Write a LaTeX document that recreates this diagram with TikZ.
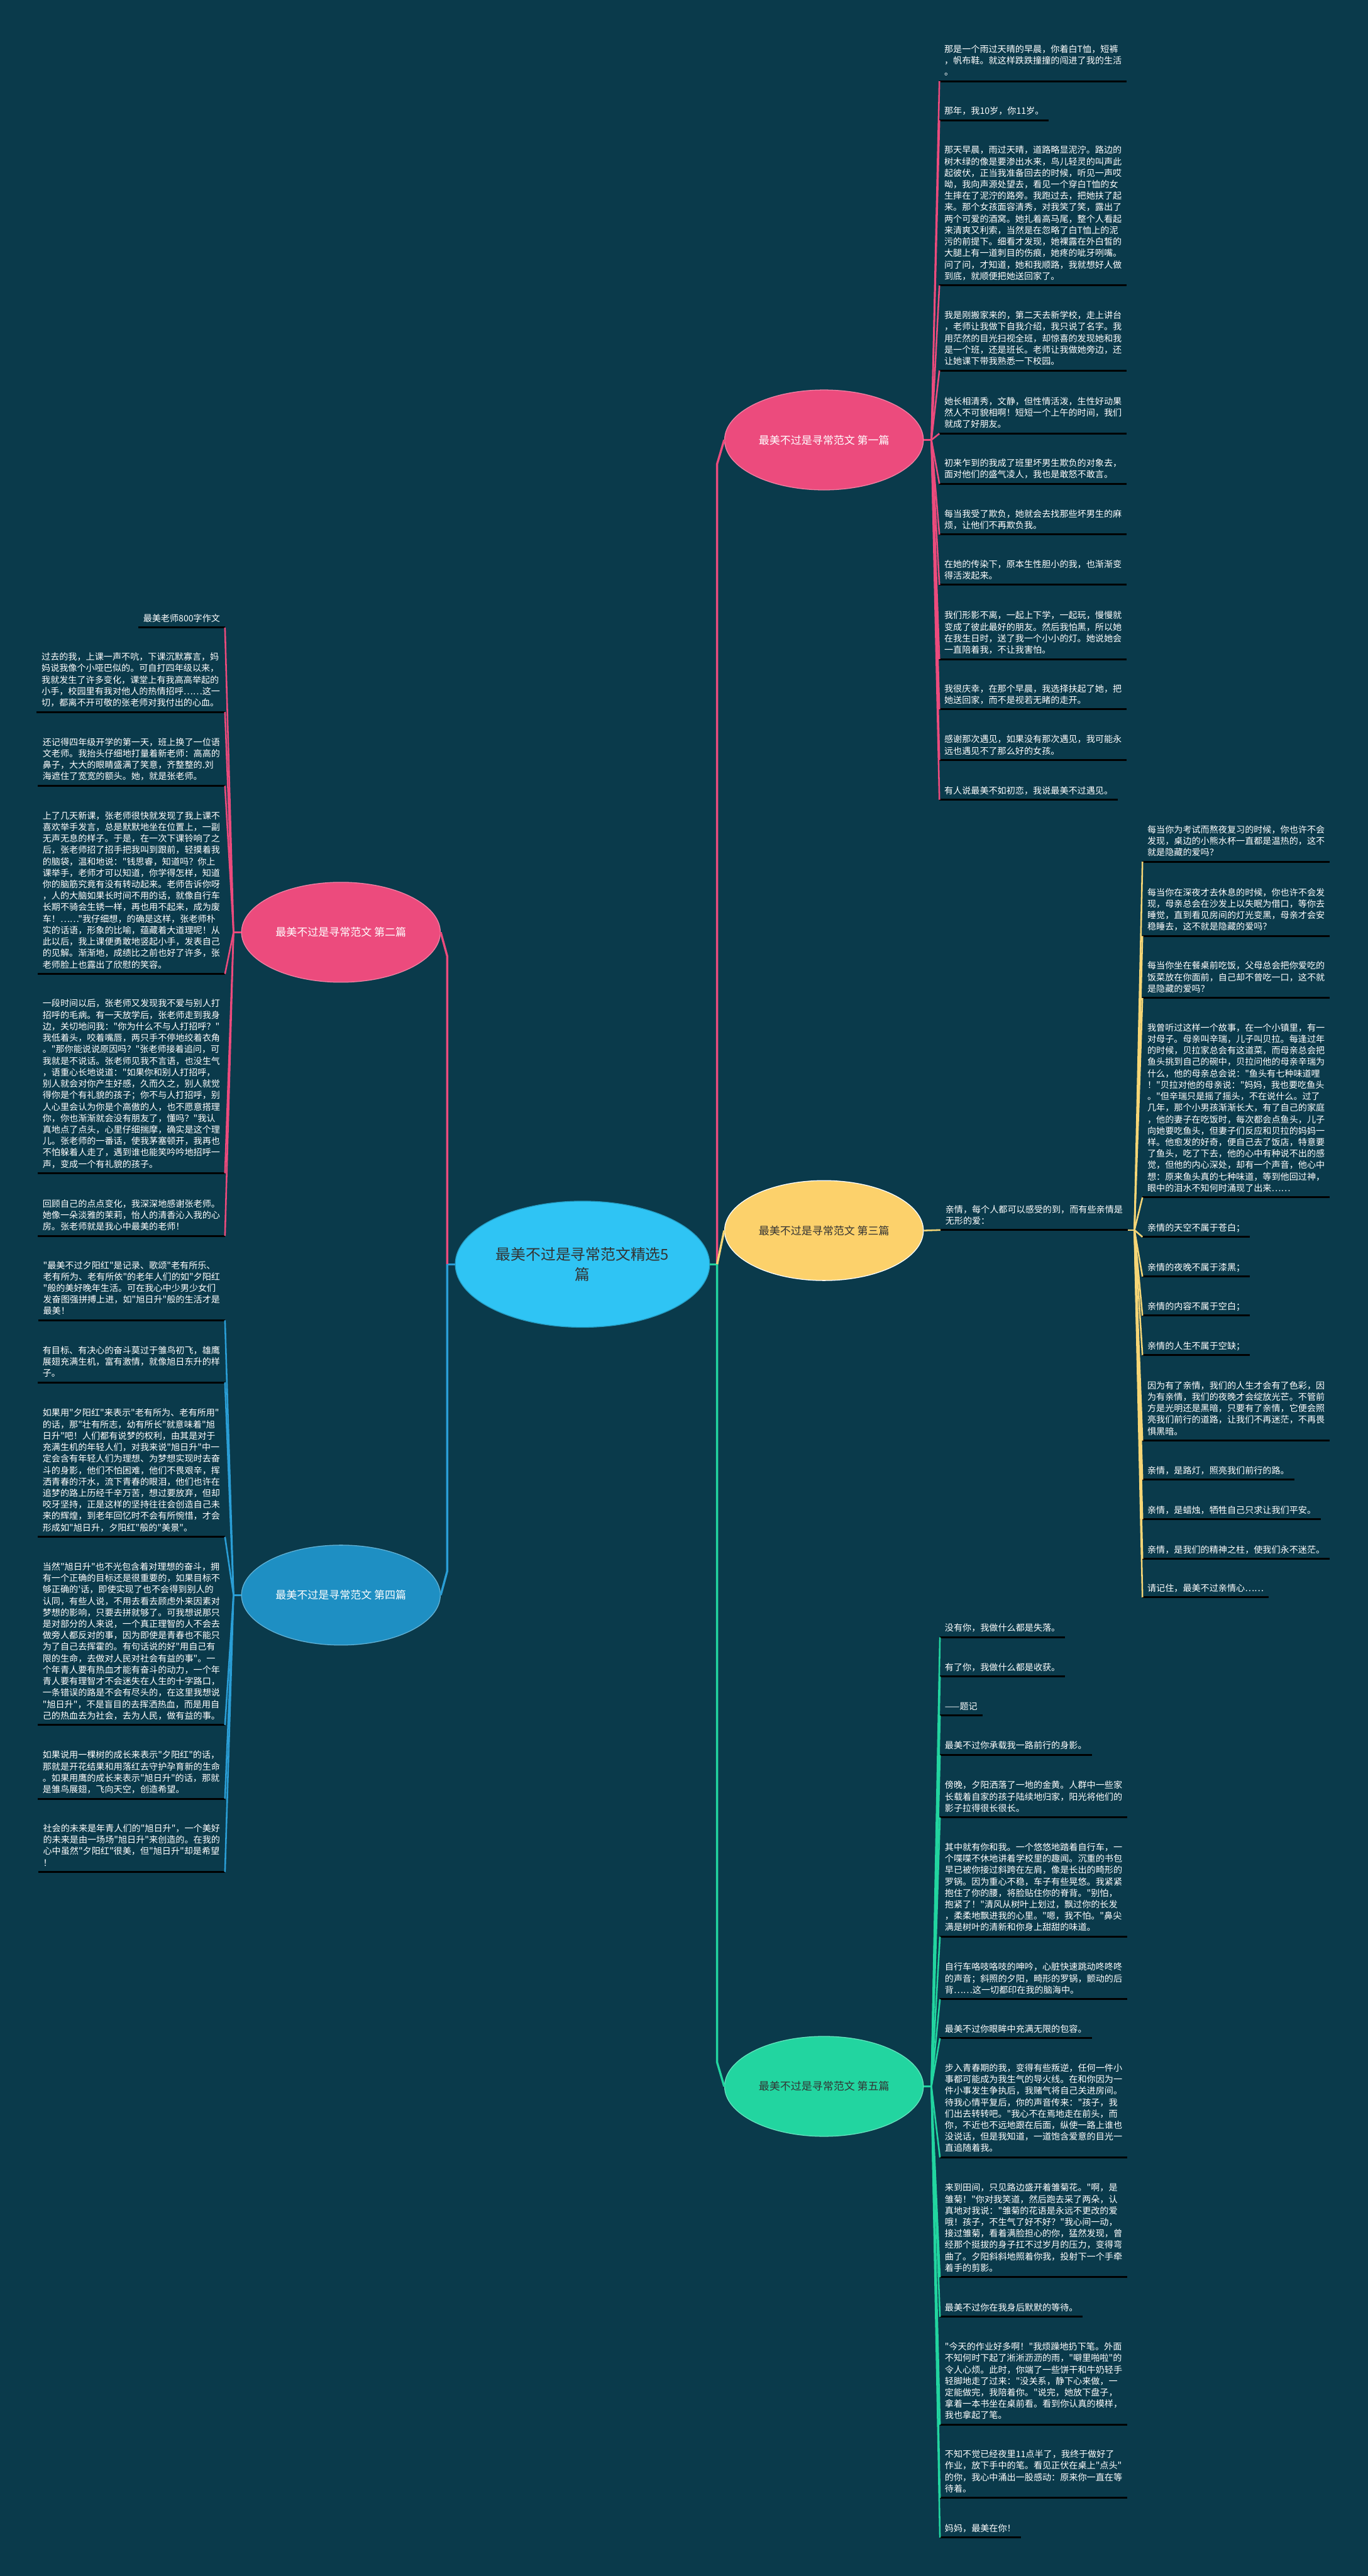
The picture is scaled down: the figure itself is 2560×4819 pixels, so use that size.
\documentclass[tikz,border=0pt]{standalone}
\usepackage{fontspec}
\usetikzlibrary{shapes.geometric,calc}
\newfontfamily\cjk{Noto Sans CJK SC}
\definecolor{bg}{HTML}{0A3A4B}
\definecolor{pinkc}{HTML}{EC4B7D}
\definecolor{bluec}{HTML}{1E8FC3}
\definecolor{bluel}{HTML}{2A9ED6}
\definecolor{greenc}{HTML}{22D5A0}
\definecolor{yellowc}{HTML}{FCD16B}
\definecolor{yellowl}{HTML}{F6D676}
\definecolor{centc}{HTML}{2FC4F4}
\definecolor{darktxt}{HTML}{333333}
\begin{document}
\begin{tikzpicture}[x=1pt,y=-1pt,
  uline/.style={draw=black, line width=3.5pt},
  leafbase/.style={font=\cjk\fontsize{16.6}{21.45}\selectfont, text=white, align=left, inner xsep=9pt, inner ysep=8.5pt, text depth=2.5pt,
    append after command={(\tikzlastnode.south west) edge[uline] (\tikzlastnode.south east)}},
  leafR/.style={leafbase, anchor=south west},
  leafL/.style={leafbase, anchor=south east},
  branchnode/.style={ellipse, minimum width=372pt, minimum height=187pt, inner sep=0pt, font=\cjk\fontsize{20}{24}\selectfont, line width=1.5pt},
  mainline/.style={line width=4pt},
  leafline/.style={line width=3pt},
]
\useasboundingbox (0,0) rectangle (2560,4819);
\fill[bg] (0,0) rectangle (2560,4819);

% central and branch nodes
\node[ellipse, fill=centc, draw=centc!80!black, line width=1.5pt, minimum width=476pt, minimum height=236pt, inner sep=0pt, font=\cjk\fontsize{28}{37}\selectfont, text=darktxt, align=center] (c) at (1090,2365) {最美不过是寻常范文精选5\\篇};
\node[branchnode, fill=pinkc, draw=pinkc!70!white, text=white] (b1) at (1542,823) {最美不过是寻常范文 第一篇};
\node[branchnode, fill=pinkc, draw=pinkc!70!white, text=white] (b2) at (638,1744) {最美不过是寻常范文 第二篇};
\node[branchnode, fill=yellowc, draw=white, text=darktxt] (b3) at (1542,2302) {最美不过是寻常范文 第三篇};
\node[branchnode, fill=bluec, draw=bluec!70!white, text=white] (b4) at (638,2984) {最美不过是寻常范文 第四篇};
\node[branchnode, fill=greenc, draw=greenc!70!white, text=darktxt] (b5) at (1542,3903) {最美不过是寻常范文 第五篇};

\coordinate (cl) at (837,2365);
\coordinate (cr) at (1342,2365);
\coordinate (j1) at (1743,823);
\coordinate (j2) at (437,1744);
\coordinate (j3) at (2123,2301);
\coordinate (j4) at (437,2984);
\coordinate (j5) at (1743,3903);

% branch 1 leaves
\node[leafR] (a1) at (1758,152) {那是一个雨过天晴的早晨，你着白T恤，短裤\\，帆布鞋。就这样跌跌撞撞的闯进了我的生活\\。};
\node[leafR] (a2) at (1758,225) {那年，我10岁，你11岁。};
\node[leafR] (a3) at (1758,534) {那天早晨，雨过天晴，道路略显泥泞。路边的\\树木绿的像是要渗出水来，鸟儿轻灵的叫声此\\起彼伏，正当我准备回去的时候，听见一声哎\\呦，我向声源处望去，看见一个穿白T恤的女\\生摔在了泥泞的路旁。我跑过去，把她扶了起\\来。那个女孩面容清秀，对我笑了笑，露出了\\两个可爱的酒窝。她扎着高马尾，整个人看起\\来清爽又利索，当然是在忽略了白T恤上的泥\\污的前提下。细看才发现，她裸露在外白皙的\\大腿上有一道刺目的伤痕，她疼的呲牙咧嘴。\\问了问，才知道，她和我顺路，我就想好人做\\到底，就顺便把她送回家了。};
\node[leafR] (a4) at (1758,693) {我是刚搬家来的，第二天去新学校，走上讲台\\，老师让我做下自我介绍，我只说了名字。我\\用茫然的目光扫视全班，却惊喜的发现她和我\\是一个班，还是班长。老师让我做她旁边，还\\让她课下带我熟悉一下校园。};
\node[leafR] (a5) at (1758,811) {她长相清秀，文静，但性情活泼，生性好动果\\然人不可貌相啊！短短一个上午的时间，我们\\就成了好朋友。};
\node[leafR] (a6) at (1758,905) {初来乍到的我成了班里坏男生欺负的对象去，\\面对他们的盛气凌人，我也是敢怒不敢言。};
\node[leafR] (a7) at (1758,1000) {每当我受了欺负，她就会去找那些坏男生的麻\\烦，让他们不再欺负我。};
\node[leafR] (a8) at (1758,1094) {在她的传染下，原本生性胆小的我，也渐渐变\\得活泼起来。};
\node[leafR] (a9) at (1758,1233) {我们形影不离，一起上下学，一起玩，慢慢就\\变成了彼此最好的朋友。然后我怕黑，所以她\\在我生日时，送了我一个小小的灯。她说她会\\一直陪着我，不让我害怕。};
\node[leafR] (a10) at (1758,1327) {我很庆幸，在那个早晨，我选择扶起了她，把\\她送回家，而不是视若无睹的走开。};
\node[leafR] (a11) at (1758,1422) {感谢那次遇见，如果没有那次遇见，我可能永\\远也遇见不了那么好的女孩。};
\node[leafR] (a12) at (1758,1496) {有人说最美不如初恋，我说最美不过遇见。};

% branch 2 leaves
\node[leafL] (e1) at (421,1174) {最美老师800字作文};
\node[leafL] (e2) at (421,1332) {过去的我，上课一声不吭，下课沉默寡言，妈\\妈说我像个小哑巴似的。可自打四年级以来，\\我就发生了许多变化，课堂上有我高高举起的\\小手，校园里有我对他人的热情招呼……这一\\切，都离不开可敬的张老师对我付出的心血。};
\node[leafL] (e3) at (421,1470) {还记得四年级开学的第一天，班上换了一位语\\文老师。我抬头仔细地打量着新老师：高高的\\鼻子，大大的眼睛盛满了笑意，齐整整的.刘\\海遮住了宽宽的额头。她，就是张老师。};
\node[leafL] (e4) at (421,1822) {上了几天新课，张老师很快就发现了我上课不\\喜欢举手发言，总是默默地坐在位置上，一副\\无声无息的样子。于是，在一次下课铃响了之\\后，张老师招了招手把我叫到跟前，轻摸着我\\的脑袋，温和地说："钱思睿，知道吗？你上\\课举手，老师才可以知道，你学得怎样，知道\\你的脑筋究竟有没有转动起来。老师告诉你呀\\，人的大脑如果长时间不用的话，就像自行车\\长期不骑会生锈一样，再也用不起来，成为废\\车！……"我仔细想，的确是这样，张老师朴\\实的话语，形象的比喻，蕴藏着大道理呢！从\\此以后，我上课便勇敢地竖起小手，发表自己\\的见解。渐渐地，成绩比之前也好了许多，张\\老师脸上也露出了欣慰的笑容。};
\node[leafL] (e5) at (421,2195) {一段时间以后，张老师又发现我不爱与别人打\\招呼的毛病。有一天放学后，张老师走到我身\\边，关切地问我："你为什么不与人打招呼？"\\我低着头，咬着嘴唇，两只手不停地绞着衣角\\。"那你能说说原因吗？"张老师接着追问，可\\我就是不说话。张老师见我不言语，也没生气\\，语重心长地说道："如果你和别人打招呼，\\别人就会对你产生好感，久而久之，别人就觉\\得你是个有礼貌的孩子；你不与人打招呼，别\\人心里会认为你是个高傲的人，也不愿意搭理\\你，你也渐渐就会没有朋友了，懂吗？"我认\\真地点了点头，心里仔细揣摩，确实是这个理\\儿。张老师的一番话，使我茅塞顿开，我再也\\不怕躲着人走了，遇到谁也能笑吟吟地招呼一\\声，变成一个有礼貌的孩子。};
\node[leafL] (e6) at (421,2312) {回顾自己的点点变化，我深深地感谢张老师。\\她像一朵淡雅的茉莉，怡人的清香沁入我的心\\房。张老师就是我心中最美的老师！};

% branch 3 leaves
\node[leafR] (t3) at (1760,2301) {亲情，每个人都可以感受的到，而有些亲情是\\无形的爱：};
\node[leafR] (s1) at (2138,1612) {每当你为考试而熬夜复习的时候，你也许不会\\发现，桌边的小熊水杯一直都是温热的，这不\\就是隐藏的爱吗？};
\node[leafR] (s2) at (2138,1751) {每当你在深夜才去休息的时候，你也许不会发\\现，母亲总会在沙发上以失眠为借口，等你去\\睡觉，直到看见房间的灯光变黑，母亲才会安\\稳睡去，这不就是隐藏的爱吗？};
\node[leafR] (s3) at (2138,1867) {每当你坐在餐桌前吃饭，父母总会把你爱吃的\\饭菜放在你面前，自己却不曾吃一口，这不就\\是隐藏的爱吗？};
\node[leafR] (s4) at (2138,2240) {我曾听过这样一个故事，在一个小镇里，有一\\对母子。母亲叫辛瑞，儿子叫贝拉。每逢过年\\的时候，贝拉家总会有这道菜，而母亲总会把\\鱼头挑到自己的碗中，贝拉问他的母亲辛瑞为\\什么，他的母亲总会说："鱼头有七种味道哩\\！"贝拉对他的母亲说："妈妈，我也要吃鱼头\\。"但辛瑞只是摇了摇头，不在说什么。过了\\几年，那个小男孩渐渐长大，有了自己的家庭\\，他的妻子在吃饭时，每次都会点鱼头，儿子\\向她要吃鱼头，但妻子们反应和贝拉的妈妈一\\样。他愈发的好奇，便自己去了饭店，特意要\\了鱼头，吃了下去，他的心中有种说不出的感\\觉，但他的内心深处，却有一个声音，他心中\\想：原来鱼头真的七种味道，等到他回过神，\\眼中的泪水不知何时涌现了出来……};
\node[leafR] (s5) at (2138,2314) {亲情的天空不属于苍白；};
\node[leafR] (s6) at (2138,2388) {亲情的夜晚不属于漆黑；};
\node[leafR] (s7) at (2138,2461) {亲情的内容不属于空白；};
\node[leafR] (s8) at (2138,2535) {亲情的人生不属于空缺；};
\node[leafR] (s9) at (2138,2695) {因为有了亲情，我们的人生才会有了色彩，因\\为有亲情，我们的夜晚才会绽放光芒。不管前\\方是光明还是黑暗，只要有了亲情，它便会照\\亮我们前行的道路，让我们不再迷茫，不再畏\\惧黑暗。};
\node[leafR] (s10) at (2138,2768) {亲情，是路灯，照亮我们前行的路。};
\node[leafR] (s11) at (2138,2842) {亲情，是蜡烛，牺牲自己只求让我们平安。};
\node[leafR] (s12) at (2138,2916) {亲情，是我们的精神之柱，使我们永不迷茫。};
\node[leafR] (s13) at (2138,2988) {请记住，最美不过亲情心……};

% branch 4 leaves
\node[leafL] (d1) at (421,2470) {"最美不过夕阳红"是记录、歌颂"老有所乐、\\老有所为、老有所依"的老年人们的如"夕阳红\\"般的美好晚年生活。可在我心中少男少女们\\发奋图强拼搏上进，如"旭日升"般的生活才是\\最美！};
\node[leafL] (d2) at (421,2586) {有目标、有决心的奋斗莫过于雏鸟初飞，雄鹰\\展翅充满生机，富有激情，就像旭日东升的样\\子。};
\node[leafL] (d3) at (421,2875) {如果用"夕阳红"来表示"老有所为、老有所用"\\的话，那"壮有所志，幼有所长"就意味着"旭\\日升"吧！人们都有说梦的权利，由其是对于\\充满生机的年轻人们，对我来说"旭日升"中一\\定会含有年轻人们为理想、为梦想实现时去奋\\斗的身影，他们不怕困难，他们不畏艰辛，挥\\洒青春的汗水，流下青春的眼泪，他们也许在\\追梦的路上历经千辛万苦，想过要放弃，但却\\咬牙坚持，正是这样的坚持往往会创造自己未\\来的辉煌，到老年回忆时不会有所惋惜，才会\\形成如"旭日升，夕阳红"般的"美景"。};
\node[leafL] (d4) at (421,3227) {当然"旭日升"也不光包含着对理想的奋斗，拥\\有一个正确的目标还是很重要的，如果目标不\\够正确的'话，即使实现了也不会得到别人的\\认同，有些人说，不用去看去顾虑外来因素对\\梦想的影响，只要去拼就够了。可我想说那只\\是对部分的人来说，一个真正理智的人不会去\\做旁人都反对的事，因为即使是青春也不能只\\为了自己去挥霍的。有句话说的好"用自己有\\限的生命，去做对人民对社会有益的事"。一\\个年青人要有热血才能有奋斗的动力，一个年\\青人要有理智才不会迷失在人生的十字路口，\\一条错误的路是不会有尽头的，在这里我想说\\"旭日升"，不是盲目的去挥洒热血，而是用自\\己的热血去为社会，去为人民，做有益的事。};
\node[leafL] (d5) at (421,3365) {如果说用一棵树的成长来表示"夕阳红"的话，\\那就是开花结果和用落红去守护孕育新的生命\\。如果用鹰的成长来表示"旭日升"的话，那就\\是雏鸟展翅，飞向天空，创造希望。};
\node[leafL] (d6) at (421,3502) {社会的未来是年青人们的"旭日升"，一个美好\\的未来是由一场场"旭日升"来创造的。在我的\\心中虽然"夕阳红"很美，但"旭日升"却是希望\\！};

% branch 5 leaves
\node[leafR] (f1) at (1759,3063) {没有你，我做什么都是失落。};
\node[leafR] (f2) at (1759,3136) {有了你，我做什么都是收获。};
\node[leafR] (f3) at (1759,3209) {——题记};
\node[leafR] (f4) at (1759,3283) {最美不过你承载我一路前行的身影。};
\node[leafR] (f5) at (1759,3400) {傍晚，夕阳洒落了一地的金黄。人群中一些家\\长载着自家的孩子陆续地归家，阳光将他们的\\影子拉得很长很长。};
\node[leafR] (f6) at (1759,3623) {其中就有你和我。一个悠悠地踏着自行车，一\\个喋喋不休地讲着学校里的趣闻。沉重的书包\\早已被你接过斜跨在左肩，像是长出的畸形的\\罗锅。因为重心不稳，车子有些晃悠。我紧紧\\抱住了你的腰，将脸贴住你的脊背。"别怕，\\抱紧了！"清风从树叶上划过，飘过你的长发\\，柔柔地飘进我的心里。"嗯，我不怕。"鼻尖\\满是树叶的清新和你身上甜甜的味道。};
\node[leafR] (f7) at (1759,3740) {自行车咯吱咯吱的呻吟，心脏快速跳动咚咚咚\\的声音；斜照的夕阳，畸形的罗锅，颤动的后\\背……这一切都印在我的脑海中。};
\node[leafR] (f8) at (1759,3813) {最美不过你眼眸中充满无限的包容。};
\node[leafR] (f9) at (1759,4036) {步入青春期的我，变得有些叛逆，任何一件小\\事都可能成为我生气的导火线。在和你因为一\\件小事发生争执后，我赌气将自己关进房间。\\待我心情平复后，你的声音传来："孩子，我\\们出去转转吧。"我心不在焉地走在前头，而\\你，不近也不远地跟在后面，纵使一路上谁也\\没说话，但是我知道，一道饱含爱意的目光一\\直追随着我。};
\node[leafR] (f10) at (1759,4260) {来到田间，只见路边盛开着雏菊花。"啊，是\\雏菊！"你对我笑道，然后跑去采了两朵，认\\真地对我说："雏菊的花语是永远不更改的爱\\哦！孩子，不生气了好不好？"我心间一动，\\接过雏菊，看着满脸担心的你，猛然发现，曾\\经那个挺拔的身子扛不过岁月的压力，变得弯\\曲了。夕阳斜斜地照着你我，投射下一个手牵\\着手的剪影。};
\node[leafR] (f11) at (1759,4334) {最美不过你在我身后默默的等待。};
\node[leafR] (f12) at (1759,4536) {"今天的作业好多啊！"我烦躁地扔下笔。外面\\不知何时下起了淅淅沥沥的雨，"噼里啪啦"的\\令人心烦。此时，你端了一些饼干和牛奶轻手\\轻脚地走了过来："没关系，静下心来做，一\\定能做完，我陪着你。"说完，她放下盘子，\\拿着一本书坐在桌前看。看到你认真的模样，\\我也拿起了笔。};
\node[leafR] (f13) at (1759,4673) {不知不觉已经夜里11点半了，我终于做好了\\作业，放下手中的笔。看见正伏在桌上"点头"\\的你，我心中涌出一股感动：原来你一直在等\\待着。};
\node[leafR] (f14) at (1759,4747) {妈妈，最美在你！};

% main connectors
\draw[mainline, bluel] (c.west) -- (cl);
\draw[mainline, greenc] (c.east) -- (cr);
\draw[mainline, pinkc] (cl) -- ($(cl |- b2.east)+(0,45)$) -- (b2.east);
\draw[mainline, bluel] (cl) -- ($(cl |- b4.east)+(0,-45)$) -- (b4.east);
\draw[mainline, pinkc] (cr) -- ($(cr |- b1.west)+(0,45)$) -- (b1.west);
\draw[mainline, greenc] (cr) -- ($(cr |- b5.west)+(0,-45)$) -- (b5.west);
\draw[mainline, yellowl] (cr) -- (b3.west);

% leaf connectors
\draw[leafline, pinkc] (b1.east) -- (j1);
\foreach \n in {a1,a2,a3,a4,a5,a6,a7,a8,a9,a10,a11,a12} \draw[leafline, pinkc] (j1) -- (\n.south west);
\draw[leafline, pinkc] (b2.west) -- (j2);
\foreach \n in {e1,e2,e3,e4,e5,e6} \draw[leafline, pinkc] (j2) -- (\n.south east);
\draw[leafline, yellowl] (b3.east) -- (t3.south west);
\draw[leafline, yellowl] (t3.south east) -- (j3);
\foreach \n in {s1,s2,s3,s4,s5,s6,s7,s8,s9,s10,s11,s12,s13} \draw[leafline, yellowl] (j3) -- (\n.south west);
\draw[leafline, bluel] (b4.west) -- (j4);
\foreach \n in {d1,d2,d3,d4,d5,d6} \draw[leafline, bluel] (j4) -- (\n.south east);
\draw[leafline, greenc] (b5.east) -- (j5);
\foreach \n in {f1,f2,f3,f4,f5,f6,f7,f8,f9,f10,f11,f12,f13,f14} \draw[leafline, greenc] (j5) -- (\n.south west);
\end{tikzpicture}
\end{document}
